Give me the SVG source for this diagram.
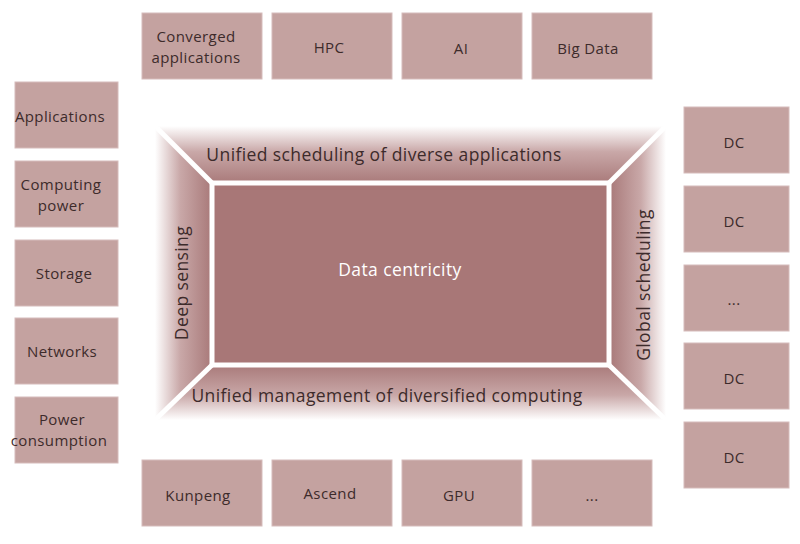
<svg xmlns="http://www.w3.org/2000/svg" width="800" height="544" viewBox="0 0 800 544">
<defs>
<style>
.box{fill:#c4a2a0;stroke:#d6bcbb;stroke-width:1}
.t{font-family:"Open Sans","Noto Sans","DejaVu Sans",sans-serif;font-size:15px;fill:#3d2b2b;text-anchor:middle;letter-spacing:0.4px}
.b{font-family:"Open Sans","Noto Sans","DejaVu Sans",sans-serif;font-size:17.5px;fill:#3d2b2b;text-anchor:middle;letter-spacing:0.4px}
.w{fill:none;stroke:#ffffff;stroke-width:5}
</style>
<linearGradient id="gT" x1="0" y1="1" x2="0" y2="0"><stop offset="0" stop-color="#a97a7a"/><stop offset="0.55" stop-color="#c9a8a8"/><stop offset="1" stop-color="#ffffff"/></linearGradient>
<linearGradient id="gB" x1="0" y1="0" x2="0" y2="1"><stop offset="0" stop-color="#a97a7a"/><stop offset="0.55" stop-color="#c9a8a8"/><stop offset="1" stop-color="#ffffff"/></linearGradient>
<linearGradient id="gL" x1="1" y1="0" x2="0" y2="0"><stop offset="0" stop-color="#a97a7a"/><stop offset="0.55" stop-color="#c9a8a8"/><stop offset="1" stop-color="#ffffff"/></linearGradient>
<linearGradient id="gR" x1="0" y1="0" x2="1" y2="0"><stop offset="0" stop-color="#a97a7a"/><stop offset="0.55" stop-color="#c9a8a8"/><stop offset="1" stop-color="#ffffff"/></linearGradient>
</defs>
<rect width="800" height="544" fill="#ffffff"/>

<g id="frame">
<polygon points="155,126 666,126 610,183 211,183" fill="url(#gT)"/>
<polygon points="155,420 666,420 610,365 211,365" fill="url(#gB)"/>
<polygon points="155,126 211,183 211,365 155,420" fill="url(#gL)"/>
<polygon points="666,126 610,183 610,365 666,420" fill="url(#gR)"/>
<rect x="212" y="183" width="397" height="182" fill="#a87777"/>
<rect x="212" y="183" width="397" height="182" class="w"/>
<line x1="155" y1="126" x2="212" y2="183" class="w"/>
<line x1="666" y1="126" x2="609" y2="183" class="w"/>
<line x1="155" y1="420" x2="212" y2="365" class="w"/>
<line x1="666" y1="420" x2="609" y2="365" class="w"/>
<text x="384" y="161" class="b">Unified scheduling of diverse applications</text>
<text x="387" y="402" class="b">Unified management of diversified computing</text>
<text transform="translate(188,283) rotate(-90)" class="b">Deep sensing</text>
<text transform="translate(650,285) rotate(-90)" class="b">Global scheduling</text>
<text x="400" y="276" class="b" style="fill:#ffffff">Data centricity</text>
</g>

<g id="top-converged"><rect x="142" y="13" width="120" height="66" class="box"/><text x="196" y="42" class="t">Converged</text><text x="196" y="63" class="t">applications</text></g>
<g id="top-hpc"><rect x="272" y="13" width="120" height="66" class="box"/><text x="329" y="53" class="t">HPC</text></g>
<g id="top-ai"><rect x="402" y="13" width="120" height="66" class="box"/><text x="461" y="54" class="t">AI</text></g>
<g id="top-bigdata"><rect x="532" y="13" width="120" height="66" class="box"/><text x="588" y="54" class="t">Big Data</text></g>

<g id="left-applications"><rect x="15" y="82" width="103" height="66" class="box"/><text x="60" y="122" class="t">Applications</text></g>
<g id="left-computing"><rect x="15" y="161" width="103" height="66" class="box"/><text x="61" y="190" class="t">Computing</text><text x="61" y="211" class="t">power</text></g>
<g id="left-storage"><rect x="15" y="240" width="103" height="66" class="box"/><text x="64" y="279" class="t">Storage</text></g>
<g id="left-networks"><rect x="15" y="318" width="103" height="66" class="box"/><text x="62" y="357" class="t">Networks</text></g>
<g id="left-power"><rect x="15" y="397" width="103" height="66" class="box"/><text x="62" y="425" class="t">Power</text><text x="59" y="446" class="t">consumption</text></g>

<g id="right-dc1"><rect x="684" y="107" width="105" height="66" class="box"/><text x="734" y="148" class="t">DC</text></g>
<g id="right-dc2"><rect x="684" y="186" width="105" height="66" class="box"/><text x="734" y="227" class="t">DC</text></g>
<g id="right-more"><rect x="684" y="265" width="105" height="66" class="box"/><text x="734" y="305" class="t">...</text></g>
<g id="right-dc3"><rect x="684" y="343" width="105" height="66" class="box"/><text x="734" y="384" class="t">DC</text></g>
<g id="right-dc4"><rect x="684" y="422" width="105" height="66" class="box"/><text x="734" y="463" class="t">DC</text></g>

<g id="bottom-kunpeng"><rect x="142" y="460" width="120" height="66" class="box"/><text x="198" y="501" class="t">Kunpeng</text></g>
<g id="bottom-ascend"><rect x="272" y="460" width="120" height="66" class="box"/><text x="330" y="499" class="t">Ascend</text></g>
<g id="bottom-gpu"><rect x="402" y="460" width="120" height="66" class="box"/><text x="459" y="501" class="t">GPU</text></g>
<g id="bottom-more"><rect x="532" y="460" width="120" height="66" class="box"/><text x="592" y="501" class="t">...</text></g>

<g id="connectors"></g>
</svg>
